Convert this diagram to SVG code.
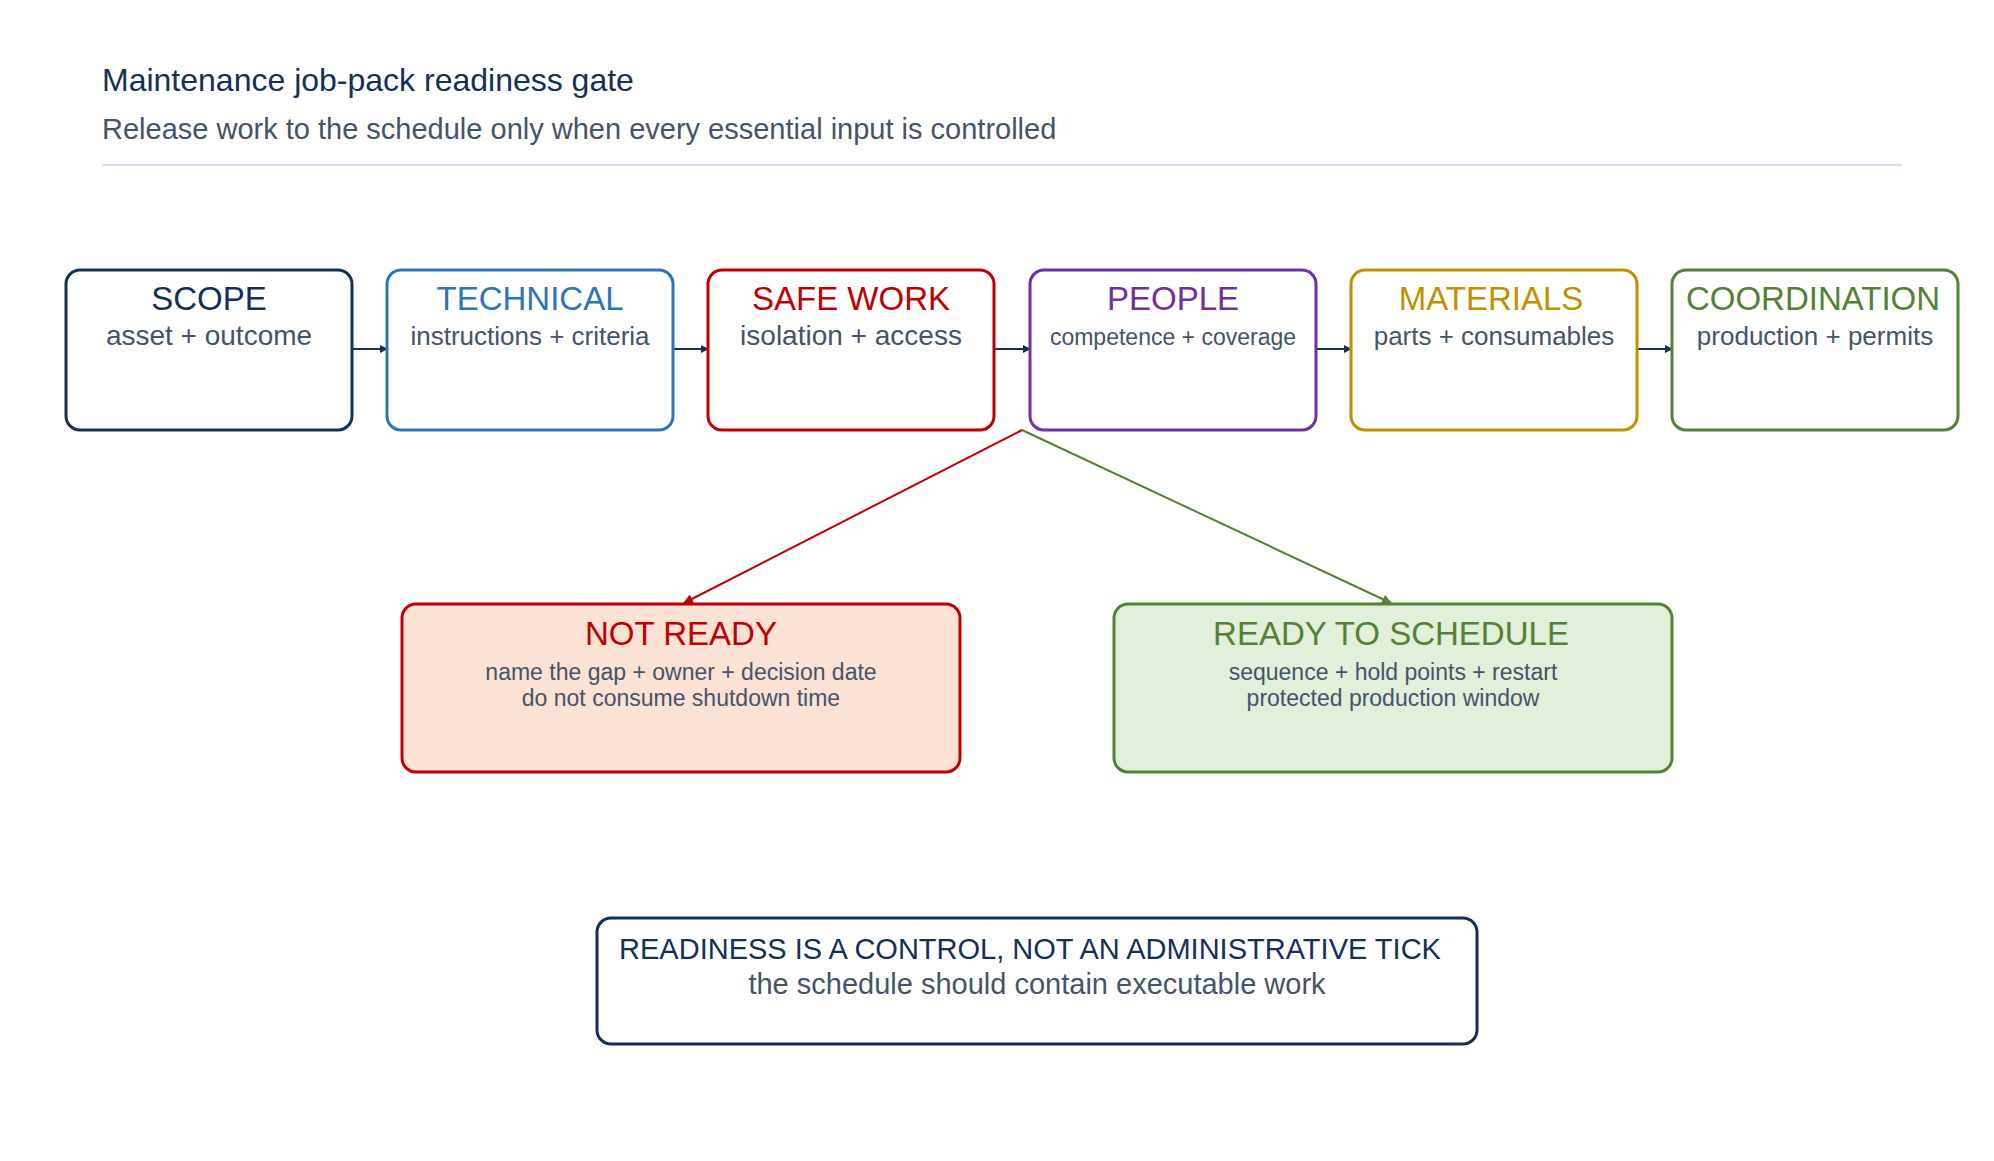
<svg xmlns="http://www.w3.org/2000/svg" width="1994" height="1161" viewBox="0 0 1994 1161">
<style>
text{font-family:"Liberation Sans",Arial,sans-serif}
.t{font-size:33px;text-anchor:middle}
.s{font-size:28px;fill:#44546a;text-anchor:middle}
.ss{font-size:23px;fill:#44546a;text-anchor:middle}
.box{fill:#fff;stroke-width:3}
</style>
<defs>
<marker id="an" markerWidth="8" markerHeight="8" refX="7" refY="4" orient="auto" markerUnits="userSpaceOnUse"><path d="M0,0L8,4L0,8z" fill="#14305a"/></marker>
<marker id="ar" markerWidth="10" markerHeight="10" refX="9" refY="5" orient="auto" markerUnits="userSpaceOnUse"><path d="M0,0L10,5L0,10z" fill="#c00000"/></marker>
<marker id="ag" markerWidth="10" markerHeight="10" refX="9" refY="5" orient="auto" markerUnits="userSpaceOnUse"><path d="M0,0L10,5L0,10z" fill="#538135"/></marker>
</defs>
<rect width="1994" height="1161" fill="#fff"/>
<text x="102" y="91" font-size="32" fill="#14305a">Maintenance job-pack readiness gate</text>
<text x="102" y="139" font-size="29" fill="#44546a">Release work to the schedule only when every essential input is controlled</text>
<line x1="102" y1="165" x2="1902" y2="165" stroke="#d6dcf5" stroke-width="2"/>
<g id="connectors" fill="none" stroke-width="2">
<line x1="353" y1="349" x2="387" y2="349" stroke="#14305a" marker-end="url(#an)"/>
<line x1="674" y1="349" x2="708" y2="349" stroke="#14305a" marker-end="url(#an)"/>
<line x1="994" y1="349" x2="1030" y2="349" stroke="#14305a" marker-end="url(#an)"/>
<line x1="1316" y1="349" x2="1351" y2="349" stroke="#14305a" marker-end="url(#an)"/>
<line x1="1637" y1="349" x2="1672" y2="349" stroke="#14305a" marker-end="url(#an)"/>
<line x1="1022" y1="430" x2="684" y2="603" stroke="#c00000" marker-end="url(#ar)"/>
<line x1="1022" y1="430" x2="1391" y2="603" stroke="#538135" marker-end="url(#ag)"/>
</g>
<g id="scope"><rect class="box" x="66" y="270" width="286" height="160" rx="14" stroke="#14305a"/><text class="t" x="209" y="310" fill="#14305a">SCOPE</text><text class="s" x="209" y="345">asset + outcome</text></g>
<g id="technical"><rect class="box" x="387" y="270" width="286" height="160" rx="14" stroke="#2e75b6"/><text class="t" x="530" y="310" fill="#2e75b6">TECHNICAL</text><text class="s" x="530" y="345" style="font-size:26px">instructions + criteria</text></g>
<g id="safework"><rect class="box" x="708" y="270" width="286" height="160" rx="14" stroke="#c00000"/><text class="t" x="851" y="310" fill="#c00000">SAFE WORK</text><text class="s" x="851" y="345">isolation + access</text></g>
<g id="people"><rect class="box" x="1030" y="270" width="286" height="160" rx="14" stroke="#7030a0"/><text class="t" x="1173" y="310" fill="#7030a0">PEOPLE</text><text class="ss" x="1173" y="345">competence + coverage</text></g>
<g id="materials"><rect class="box" x="1351" y="270" width="286" height="160" rx="14" stroke="#bf9000"/><text class="t" x="1491" y="310" fill="#bf9000">MATERIALS</text><text class="s" x="1494" y="345" style="font-size:26px">parts + consumables</text></g>
<g id="coordination"><rect class="box" x="1672" y="270" width="286" height="160" rx="14" stroke="#538135"/><text class="t" x="1813" y="310" fill="#538135">COORDINATION</text><text class="s" x="1815" y="345" style="font-size:26px">production + permits</text></g>
<g id="notready"><rect x="402" y="604" width="558" height="168" rx="14" fill="#fbe2d5" stroke="#c00000" stroke-width="3"/><text class="t" x="681" y="645" fill="#c00000">NOT READY</text><text class="ss" x="681" y="680">name the gap + owner + decision date</text><text class="ss" x="681" y="706">do not consume shutdown time</text></g>
<g id="ready"><rect x="1114" y="604" width="558" height="168" rx="14" fill="#e2efda" stroke="#538135" stroke-width="3"/><text class="t" x="1391" y="645" fill="#538135">READY TO SCHEDULE</text><text class="ss" x="1393" y="680">sequence + hold points + restart</text><text class="ss" x="1393" y="706">protected production window</text></g>
<g id="note"><rect x="597" y="918" width="880" height="126" rx="14" fill="#fff" stroke="#14305a" stroke-width="3"/><text x="1030" y="959" font-size="29" fill="#14305a" text-anchor="middle">READINESS IS A CONTROL, NOT AN ADMINISTRATIVE TICK</text><text x="1037" y="994" font-size="29" fill="#44546a" text-anchor="middle">the schedule should contain executable work</text></g>
</svg>
